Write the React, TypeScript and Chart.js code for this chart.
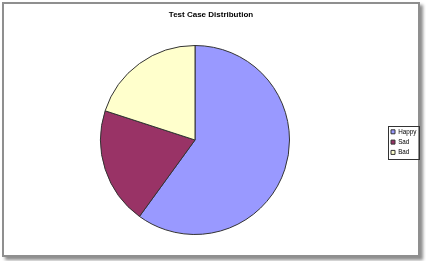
import React, { useEffect, useRef } from "react";
import { Chart, registerables } from "chart.js";

Chart.register(...registerables);

const TITLE = "Test Case Distribution";
const CATEGORIES = ["Happy", "Sad", "Bad"];
const VALUES = [60, 20, 20];
const COLORS = ["#9999FF", "#993366", "#FFFFCC"];

const FONT = "'Liberation Sans', Arial, sans-serif";

const legendFrame = {
  id: "legendFrame",
  afterDraw(chart: any) {
    const lg = chart.legend;
    const hb = lg && lg.legendHitBoxes;
    if (!hb || !hb.length) return;
    const ctx = chart.ctx;
    const offX = hb[0].left < lg.left ? lg.left + 4 : 0;
    const l = Math.min(...hb.map((h: any) => h.left)) + offX - 3;
    const r = Math.max(...hb.map((h: any) => h.left + h.width)) + offX + 3;
    const t = hb[0].top - 3;
    const last = hb[hb.length - 1];
    const b = last.top + last.height + 3;
    ctx.save();
    ctx.strokeStyle = "#333";
    ctx.lineWidth = 1;
    ctx.strokeRect(Math.round(l) + 0.5, Math.round(t) + 0.5, Math.round(r - l), Math.round(b - t));
    ctx.restore();
  },
};

export default function App() {
  const ref = useRef<HTMLCanvasElement | null>(null);

  useEffect(() => {
    if (!ref.current) return;
    const chart = new Chart(ref.current, {
      type: "pie",
      data: {
        labels: CATEGORIES,
        datasets: [
          {
            data: VALUES,
            backgroundColor: COLORS,
            borderColor: "#333",
            borderWidth: 1,
            hoverOffset: 0,
          },
        ],
      },
      options: {
        animation: false,
        responsive: false,
        maintainAspectRatio: false,
        layout: { padding: { left: 3, right: 7, top: 0, bottom: 26 } },
        plugins: {
          title: {
            display: true,
            text: TITLE,
            color: "#000",
            font: { family: FONT, size: 8, weight: "bold" },
            padding: { top: 10, bottom: 25.4 },
          },
          legend: {
            display: true,
            position: "right",
            fullSize: false,
            maxWidth: 32,
            title: {
              display: true,
              text: "",
              font: { family: FONT, size: 1 },
              padding: { top: 3, bottom: 0 },
            },
            labels: {
              color: "#000",
              font: { family: FONT, size: 6.3 },
              boxWidth: 4,
              boxHeight: 4,
              padding: 4,
            },
          },
          tooltip: { enabled: false },
        },
      },
      plugins: [legendFrame],
    });
    return () => chart.destroy();
  }, []);

  return (
    <div style={{ position: "fixed", left: 0, top: 0, width: 426, height: 261, background: "#fff" }}>
      <div
        style={{
          position: "absolute",
          left: 2,
          top: 2,
          width: 414,
          height: 251,
          border: "2px solid #8f8f8f",
          background: "#fff",
          boxShadow: "3px 3px 3px rgba(0,0,0,0.45)",
        }}
      />
      <canvas
        ref={ref}
        width={426}
        height={261}
        style={{ position: "absolute", left: 0, top: 0, width: 426, height: 261 }}
      />
    </div>
  );
}
